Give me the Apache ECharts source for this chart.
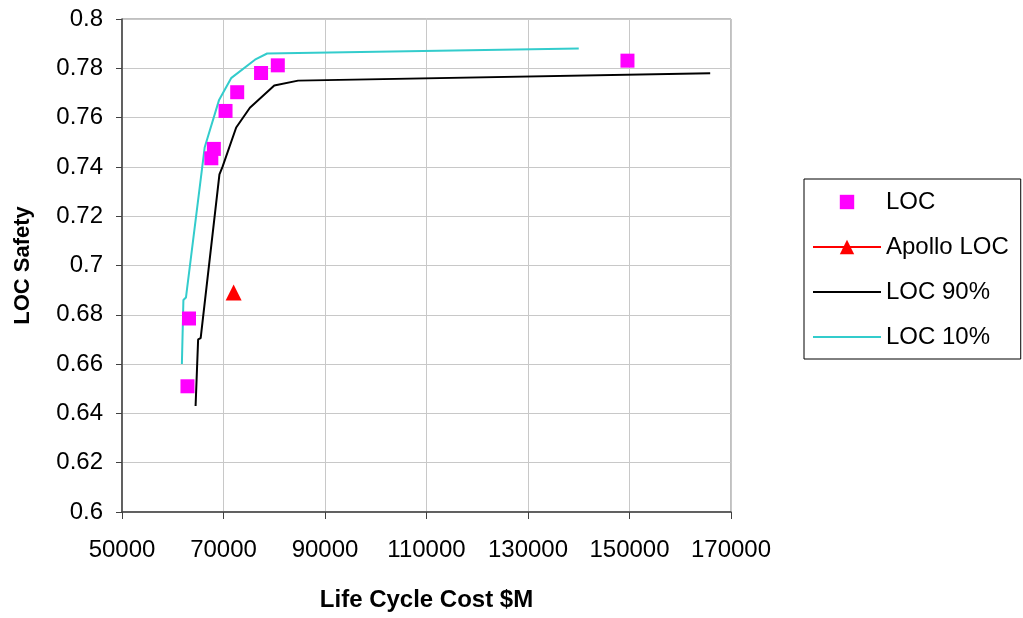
<!DOCTYPE html>
<html>
<head>
<meta charset="utf-8">
<script src="https://cdn.jsdelivr.net/npm/echarts@6/dist/echarts.min.js"></script>
<style>
html,body{margin:0;padding:0;background:#fff;}
#chart{width:1023px;height:618px;}
</style>
</head>
<body>
<div id="chart"></div>
<script>
// LOC point estimates
var locX = [62900, 63200, 67600, 68100, 70400, 72700, 77400, 80700, 149600];
var locY = [0.651, 0.6785, 0.7435, 0.7473, 0.7627, 0.7703, 0.7781, 0.7812, 0.7831];
// Apollo LOC
var apolloX = [72000];
var apolloY = [0.689];
// LOC 90% curve
var loc90X = [64500, 65000, 65500, 69200, 69800, 72500, 75200, 80000, 84700, 165900];
var loc90Y = [0.643, 0.670, 0.6705, 0.737, 0.740, 0.756, 0.764, 0.773, 0.775, 0.778];
// LOC 10% curve
var loc10X = [61800, 62100, 62600, 66300, 69100, 71500, 76200, 78600, 140000];
var loc10Y = [0.660, 0.686, 0.687, 0.748, 0.767, 0.776, 0.7835, 0.786, 0.788];
// axis ticks
var xTicks = [50000, 70000, 90000, 110000, 130000, 150000, 170000];
var yTicks = [0.6, 0.62, 0.64, 0.66, 0.68, 0.7, 0.72, 0.74, 0.76, 0.78, 0.8];

function pairs(xs, ys) { return xs.map(function (x, i) { return [x, ys[i]]; }); }

var FONT = '"Liberation Sans", Arial, sans-serif';
var chart = echarts.init(document.getElementById('chart'), null, {renderer: 'canvas'});
chart.setOption({
  animation: false,
  backgroundColor: '#ffffff',
  textStyle: {fontFamily: FONT},
  grid: {left: 122, right: 292, top: 19, bottom: 106, show: true, borderColor: '#808080', borderWidth: 1,
    backgroundColor: 'transparent', containLabel: false, outerBoundsMode: 'none'},
  xAxis: {
    type: 'value',
    min: xTicks[0], max: xTicks[xTicks.length - 1], interval: xTicks[1] - xTicks[0],
    name: 'Life Cycle Cost $M', nameLocation: 'middle', nameGap: 76,
    nameTextStyle: {fontFamily: FONT, fontSize: 24, fontWeight: 'bold', color: '#000'},
    axisLine: {show: true, onZero: false, lineStyle: {color: '#404040', width: 1.5}},
    axisTick: {show: true, inside: false, length: 7, lineStyle: {color: '#404040'}},
    axisLabel: {fontFamily: FONT, fontSize: 24, color: '#000', margin: 26,
      formatter: function (v) { return String(Math.round(v)); }},
    splitLine: {show: true, lineStyle: {color: '#c8c8c8', width: 1}}
  },
  yAxis: {
    type: 'value',
    min: yTicks[0], max: yTicks[yTicks.length - 1], interval: 0.02,
    name: 'LOC Safety', nameLocation: 'middle', nameGap: 88, nameRotate: 90,
    nameTextStyle: {fontFamily: FONT, fontSize: 22, fontWeight: 'bold', color: '#000'},
    axisLine: {show: true, onZero: false, lineStyle: {color: '#404040', width: 1.5}},
    axisTick: {show: true, inside: false, length: 6, lineStyle: {color: '#404040'}},
    axisLabel: {fontFamily: FONT, fontSize: 24, color: '#000', margin: 19,
      formatter: function (v) { return String(+v.toFixed(2)); }},
    splitLine: {show: true, lineStyle: {color: '#c8c8c8', width: 1}}
  },
  legend: {
    orient: 'vertical',
    left: 804, top: 179,
    padding: [11, 12, 10, 8],
    itemWidth: 68, itemHeight: 18, itemGap: 21,
    borderColor: '#000', borderWidth: 1,
    backgroundColor: '#fff',
    textStyle: {fontFamily: FONT, fontSize: 24, color: '#000'},
    data: [
      {name: 'LOC'},
      {name: 'Apollo LOC'},
      {name: 'LOC 90%', itemStyle: {opacity: 0}},
      {name: 'LOC 10%', itemStyle: {opacity: 0}}
    ]
  },
  series: [
    {
      name: 'LOC 10%', type: 'line', data: pairs(loc10X, loc10Y),
      showSymbol: false, symbol: 'none',
      lineStyle: {color: '#33CCCC', width: 2}, itemStyle: {color: '#33CCCC'}, z: 2
    },
    {
      name: 'LOC 90%', type: 'line', data: pairs(loc90X, loc90Y),
      showSymbol: false, symbol: 'none',
      lineStyle: {color: '#000000', width: 2}, itemStyle: {color: '#000000'}, z: 2
    },
    {
      name: 'LOC', type: 'line', data: pairs(locX, locY),
      symbol: 'rect', symbolSize: 14,
      lineStyle: {opacity: 0, width: 0},
      itemStyle: {color: '#FF00FF'}, z: 3
    },
    {
      name: 'Apollo LOC', type: 'line', data: pairs(apolloX, apolloY),
      symbol: 'triangle', symbolSize: 16,
      lineStyle: {color: '#FF0000', width: 1},
      itemStyle: {color: '#FF0000'}, z: 3
    }
  ]
});
</script>
</body>
</html>
